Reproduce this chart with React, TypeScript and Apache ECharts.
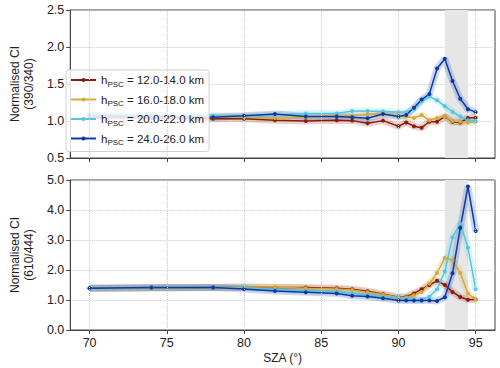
import React, { useEffect, useRef } from "react";
import * as echarts from "echarts";

const sza = [70, 74, 78, 80, 82, 84, 86, 87, 88, 89, 90, 90.5, 91, 91.5, 92, 92.5, 93, 93.5, 94, 94.5, 95];
const seriesNames = ["12.0-14.0 km", "16.0-18.0 km", "20.0-22.0 km", "24.0-26.0 km"];
const colors = ["#8c1c0a", "#d4aa3c", "#56c6df", "#0b3aa6"];

// Normalised CI (390/340)
const top12 = [1.05, 1.04, 1.03, 1.03, 1.01, 1.0, 1.01, 1.005, 0.97, 1.005, 0.93, 0.98, 0.93, 0.91, 0.99, 0.99, 1.06, 0.99, 0.98, 1.04, 1.045];
const top16 = [1.07, 1.06, 1.05, 1.05, 1.04, 1.05, 1.07, 1.07, 1.09, 1.1, 1.07, 1.06, 1.04, 1.08, 1.01, 1.04, 1.06, 1.0, 0.99, 0.98, 0.99];
const top20 = [1.09, 1.08, 1.07, 1.06, 1.08, 1.1, 1.1, 1.135, 1.135, 1.13, 1.12, 1.12, 1.16, 1.27, 1.33, 1.28, 1.2, 1.125, 1.06, 1.01, 1.0];
const top24 = [1.07, 1.06, 1.05, 1.07, 1.095, 1.06, 1.06, 1.05, 1.036, 1.095, 1.06, 1.08, 1.18, 1.29, 1.365, 1.71, 1.84, 1.54, 1.3, 1.16, 1.12];

// Normalised CI (610/444)
const bot12 = [1.39, 1.4, 1.42, 1.43, 1.42, 1.42, 1.39, 1.36, 1.29, 1.2, 1.09, 1.11, 1.22, 1.36, 1.5, 1.64, 1.5, 1.27, 1.1, 1.01, 1.02];
const bot16 = [1.39, 1.41, 1.42, 1.43, 1.43, 1.39, 1.37, 1.33, 1.26, 1.18, 1.08, 1.09, 1.16, 1.27, 1.55, 1.9, 2.4, 2.33, 1.9, 1.22, 1.01];
const bot20 = [1.39, 1.41, 1.42, 1.42, 1.34, 1.3, 1.27, 1.22, 1.17, 1.1, 1.08, 1.06, 1.0, 1.02, 1.11, 1.36, 1.95, 3.09, 3.55, 2.74, 1.36];
const bot24 = [1.39, 1.42, 1.42, 1.37, 1.3, 1.26, 1.22, 1.14, 1.12, 1.06, 0.98, 0.98, 0.98, 0.98, 0.98, 0.97, 1.09, 1.89, 3.4, 4.78, 3.3];

const xTicks = [70, 75, 80, 85, 90, 95];
const shadeRange = [93, 94.5];

const topData = [top12, top16, top20, top24];
const botData = [bot12, bot16, bot20, bot24];

const FONT = "Liberation Sans, Arial, sans-serif";
const AX = "#444";

export default function App() {
  const ref = useRef<HTMLDivElement>(null);
  useEffect(() => {
    document.body.style.margin = "0";
    if (!ref.current) return;
    const chart = echarts.init(ref.current, undefined, { renderer: "svg" });

    const series: any[] = [];
    [0, 1].forEach((gi) => {
      series.push({
        type: "line",
        xAxisIndex: gi,
        yAxisIndex: gi,
        data: [],
        z: 1,
        silent: true,
        markArea: {
          silent: true,
          itemStyle: { color: "#e6e6e6" },
          data: [[{ xAxis: shadeRange[0] }, { xAxis: shadeRange[1] }]],
        },
        markLine: {
          silent: true,
          symbol: ["none", "none"],
          label: { show: false },
          lineStyle: { type: "dotted", color: "#cccccc", width: 1 },
          data: xTicks.map((v) => ({ xAxis: v })),
        },
      });
      const arrs = gi === 0 ? topData : botData;
      arrs.forEach((arr, si) => {
        const pts = sza.map((x, i) => [x, arr[i]]);
        series.push({
          type: "line",
          name: "band" + si,
          xAxisIndex: gi,
          yAxisIndex: gi,
          data: pts,
          symbol: "none",
          z: 2,
          silent: true,
          lineStyle: { color: colors[si], width: 7, opacity: 0.2 },
        });
        series.push({
          type: "line",
          name: seriesNames[si],
          xAxisIndex: gi,
          yAxisIndex: gi,
          data: pts,
          symbol: "circle",
          symbolSize: 4,
          z: 3,
          itemStyle: { color: colors[si] },
          lineStyle: { color: colors[si], width: 1.5 },
        });
      });
    });

    const xAxisBase = (gi: number) => ({
      type: "value",
      gridIndex: gi,
      min: 68.75,
      max: 96.25,
      splitLine: { show: false },
      axisLine: { show: true, lineStyle: { color: AX } },
      axisTick: { show: true, length: 4, lineStyle: { color: AX }, customValues: xTicks },
      axisLabel: {
        show: gi === 1,
        customValues: xTicks,
        color: "#222",
        fontFamily: FONT,
        fontSize: 12.5,
        margin: 6,
      },
    });

    const yAxisBase = (gi: number, min: number, max: number, interval: number, name: string) => ({
      type: "value",
      gridIndex: gi,
      min,
      max,
      interval,
      name,
      nameLocation: "middle",
      nameGap: 28,
      nameTextStyle: { color: "#222", fontFamily: FONT, fontSize: 12, lineHeight: 14 },
      axisLine: { show: true, lineStyle: { color: AX } },
      axisTick: { show: true, length: 4, lineStyle: { color: AX } },
      axisLabel: {
        color: "#222",
        fontFamily: FONT,
        fontSize: 12.5,
        margin: 6,
        formatter: (v: number) => v.toFixed(1),
      },
      splitLine: { show: true, lineStyle: { type: "dotted", color: "#cccccc" } },
    });

    chart.setOption({
      animation: false,
      grid: [
        { left: 60, right: 5, top: 10, height: 148, show: true, borderColor: AX, borderWidth: 1 },
        { left: 60, right: 5, top: 180, height: 150, show: true, borderColor: AX, borderWidth: 1 },
      ],
      xAxis: [
        xAxisBase(0),
        {
          ...xAxisBase(1),
          name: "SZA (°)",
          nameLocation: "middle",
          nameGap: 22,
          nameTextStyle: { color: "#222", fontFamily: FONT, fontSize: 12 },
        },
      ],
      yAxis: [
        yAxisBase(0, 0.5, 2.5, 0.5, "Normalised CI\n(390/340)"),
        yAxisBase(1, 0, 5, 1, "Normalised CI\n(610/444)"),
      ],
      legend: {
        data: seriesNames,
        orient: "vertical",
        left: 66,
        top: 70,
        itemWidth: 25,
        itemHeight: 5,
        itemGap: 5.5,
        padding: [4, 5, 5, 4],
        backgroundColor: "rgba(255,255,255,0.85)",
        borderColor: "#d0d0d0",
        borderWidth: 1,
        borderRadius: 3,
        selectedMode: false,
        formatter: (name: string) => `{h|h}{s|PSC}{h| = ${name}}`,
        textStyle: {
          fontFamily: FONT,
          color: "#222",
          rich: {
            h: { fontSize: 11.5, fontFamily: FONT, color: "#222", lineHeight: 16, verticalAlign: "middle" },
            s: { fontSize: 8, fontFamily: FONT, color: "#222", lineHeight: 16, verticalAlign: "bottom" },
          },
        },
      },
      series,
    });
    return () => chart.dispose();
  }, []);
  return <div ref={ref} style={{ width: 500, height: 368 }} />;
}
